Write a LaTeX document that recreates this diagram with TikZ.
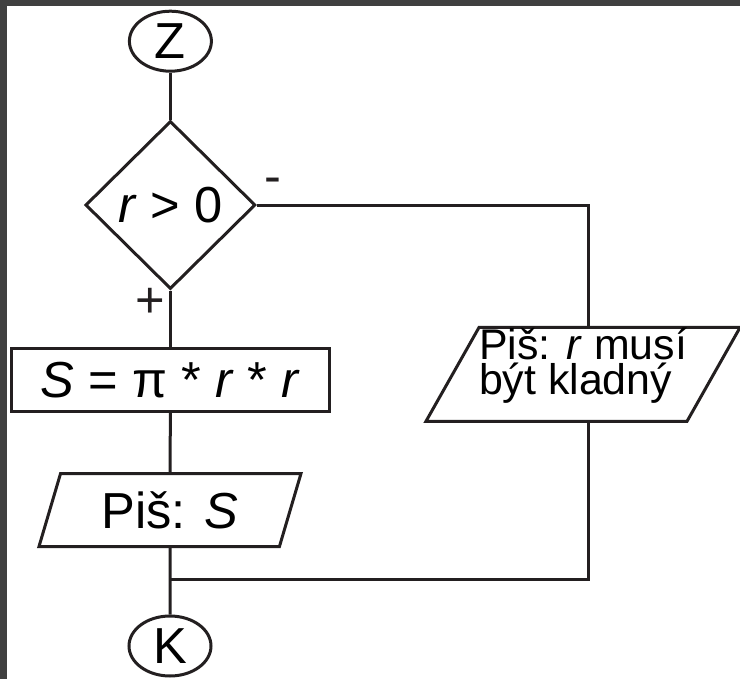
\documentclass[tikz,border=0pt]{standalone}
\usepackage{fontspec}
\setmainfont{Liberation Sans}
\usetikzlibrary{shapes.geometric, positioning}

\definecolor{ink}{RGB}{35,31,32}
\definecolor{frame}{RGB}{64,64,64}
\newcommand{\mainsize}{\fontsize{36}{43}\selectfont}
\newcommand{\notesize}{\fontsize{30.5}{24.5}\selectfont}

\begin{document}
\begin{tikzpicture}[
  term/.style={draw=ink, ellipse, line width=0.075cm, inner sep=0pt,
               minimum width=2.05cm, minimum height=1.5cm, font=\mainsize},
  decide/.style={draw=ink, diamond, line width=0.075cm, inner sep=0pt,
                 minimum width=4.25cm, minimum height=4.2cm, font=\mainsize},
  proc/.style={draw=ink, rectangle, line width=0.075cm, inner sep=0pt,
               minimum width=7.95cm, minimum height=1.575cm, font=\mainsize},
  io/.style={draw=ink, trapezium, trapezium left angle=60,
             trapezium right angle=120, trapezium stretches body,
             line width=0.075cm, inner sep=0pt},
  link/.style={draw=ink, line width=0.075cm},
  sign/.style={font=\mainsize, anchor=base, inner sep=0pt, text=ink}
]

  \useasboundingbox (0,0) rectangle (18.5,-16.975);

  % ========== FRAME ==========
  \fill[frame] (0,0) rectangle (0.175,-16.975);
  \fill[frame] (0,0) rectangle (18.5,-0.15);

  % ========== MAIN COLUMN ==========
  \node[term] (start) at (4.26, -1.03) {Z};

  \node[decide] (cond) at (4.26, -5.125) {\textit{r} > 0};

  \node[proc] (area) at (4.26, -9.5) {\textit{S} = π * \textit{r} * \textit{r}};

  \node[io, font=\mainsize, minimum width=6.55cm, minimum height=1.825cm]
    (show) at (4.25, -12.75) {Piš: \textit{S}};

  \node[term] (stop) at (4.25, -16.15) {K};

  % ========== FALSE BRANCH ==========
  \node[io, font=\notesize, align=left, minimum width=7.675cm,
        minimum height=2.35cm] (warn) at (14.575, -9.36)
    {Piš: \textit{r} musí\\být kladný\rule[-0.65cm]{0pt}{0.65cm}};

  \coordinate (merge) at (4.25, -14.475);

  % ======== BRANCH SIGNS ========
  \node[sign] (no) at (6.825, -4.825) {-};
  \node[sign] (yes) at (3.75, -7.94) {+};

  % ======== CONNECTORS ========
  \draw[link] (start.south) -- (cond.north);
  \draw[link] (cond.south) -- (area.north);
  \draw[link] (area.south) -- (show.north);
  \draw[link] (show.south) -- (stop.north);
  \draw[link] (cond.east) -| ([xshift=0.125cm]warn.north);
  \draw[link] ([xshift=0.125cm]warn.south) |- (merge);

\end{tikzpicture}
\end{document}
